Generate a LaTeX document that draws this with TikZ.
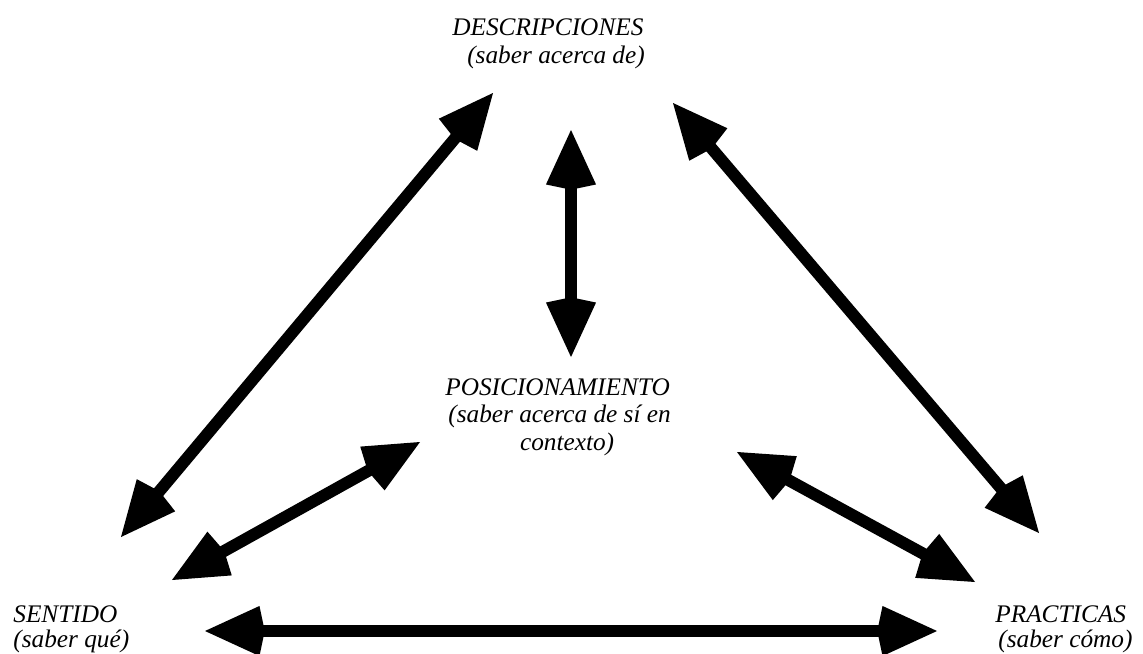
\documentclass[tikz,border=0pt]{standalone}
\usepackage{fontspec}
\setmainfont{Liberation Serif}
\usetikzlibrary{arrows.meta}

\begin{document}
\begin{tikzpicture}[x=0.02cm, y=-0.02cm,
        bighead/.tip={Kite[length=34pt, width=28.5pt, inset=3pt]},
        dbl/.style={line width=6.8pt, bighead-bighead},
        lbl/.style={anchor=base west, inner sep=0pt, align=left, font=\fontsize{14.4}{15.9}\selectfont\itshape}]
        \useasboundingbox (0,0) rectangle (1143,653);

        \node (desc) at (452,63) [lbl] {DESCRIPCIONES\\\hspace*{8.5pt}(saber acerca de)};
        \node (pos) at (445,450) [lbl, font=\fontsize{14.4}{15.6}\selectfont\itshape] {POSICIONAMIENTO\\\hspace*{1.7pt}(saber acerca de s\'i en\\\hspace*{42.5pt}contexto)};
        \node (sen) at (13,647) [lbl, font=\fontsize{14.4}{14.2}\selectfont\itshape] {SENTIDO\\(saber qu\'e)};
        \node (pra) at (995,647) [lbl, font=\fontsize{14.4}{14.2}\selectfont\itshape] {PRACTICAS\\\hspace*{1.7pt}(saber c\'omo)};

        \coordinate (descL) at (493,93);
        \coordinate (senT) at (121,537);
        \coordinate (posL) at (420,442);
        \coordinate (senR) at (172,580);
        \coordinate (descB) at (571,130);
        \coordinate (posT) at (571,357);
        \coordinate (descR) at (673,103);
        \coordinate (praT) at (1039,533);
        \coordinate (posR) at (737,452);
        \coordinate (praL) at (975,582);
        \coordinate (senB) at (205,631);
        \coordinate (praB) at (937,631);

        \draw[dbl] (descL) -- (senT);
        \draw[dbl] (posL) -- (senR);
        \draw[dbl] (descB) -- (posT);
        \draw[dbl] (descR) -- (praT);
        \draw[dbl] (posR) -- (praL);
        \draw[dbl] (senB) -- (praB);
\end{tikzpicture}
\end{document}
